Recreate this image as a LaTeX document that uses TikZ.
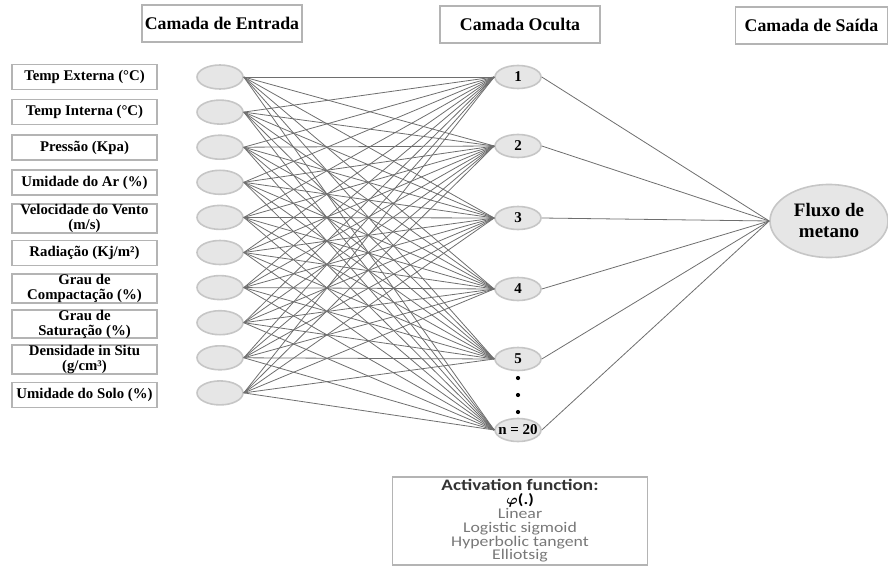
\documentclass[tikz,border=0pt]{standalone}
\usepackage{bm}
\usepackage{fontspec}
\setmainfont{Liberation Serif}
\newfontfamily\actfont[FakeStretch=1.2]{Carlito}
\usetikzlibrary{positioning,shapes.geometric}
\definecolor{NeuronFill}{RGB}{230,230,230}
\definecolor{NeuronLine}{RGB}{198,198,198}
\definecolor{BoxLine}{RGB}{180,180,180}
\definecolor{WireGray}{RGB}{110,110,110}
\definecolor{ActGray}{RGB}{120,120,120}

\begin{document}
\begin{tikzpicture}[x=0.5pt,y=-0.5pt,
  layerbox/.style={draw=BoxLine,line width=0.8pt,minimum height=18.5pt,inner sep=1pt,font=\fontsize{8.9}{10}\selectfont\bfseries},
  inbox/.style={draw=BoxLine,line width=0.8pt,minimum width=72.5pt,minimum height=12.5pt,inner xsep=0.5pt,inner ysep=0pt,align=center,font=\fontsize{7.4}{7.5}\selectfont\bfseries},
  neuron/.style={ellipse,draw=NeuronLine,fill=NeuronFill,line width=0.8pt,inner sep=0pt,minimum width=23pt,minimum height=12pt},
  hidden/.style={neuron,minimum height=11.5pt,font=\fontsize{7.5}{8}\selectfont\bfseries},
  wire/.style={draw=WireGray,line width=0.4pt}]
\useasboundingbox (0,0) rectangle (888,567);

% layer titles
\node[layerbox,minimum width=80pt] (tin) at (222,23.5) {Camada de Entrada};
\node[layerbox,minimum width=80pt] (thid) at (520,24.5) {Camada Oculta};
\node[layerbox,minimum width=76pt] (tout) at (811.5,25.5) {Camada de Saída};

% input variables
\node[inbox] (v1) at (84.5,77) {Temp Externa (°C)};
\node[inbox] (v2) at (84.5,112) {Temp Interna (°C)};
\node[inbox] (v3) at (84.5,147.5) {Pressão (Kpa)};
\node[inbox] (v4) at (84.5,182.5) {Umidade do Ar (\%)};
\node[inbox] (v5) at (84.5,218.5) {Velocidade do Vento\\(m/s)};
\node[inbox] (v6) at (84.5,253) {Radiação (Kj/m²)};
\node[inbox] (v7) at (84.5,288.5) {Grau de\\Compactação (\%)};
\node[inbox] (v8) at (84.5,324) {Grau de\\Saturação (\%)};
\node[inbox] (v9) at (84.5,359.5) {Densidade in Situ\\(g/cm³)};
\node[inbox] (v10) at (84.5,395) {Umidade do Solo (\%)};

% input neurons
\foreach \i in {1,...,10}
  \node[neuron] (i\i) at (220,{77+35.1*(\i-1)}) {};

% hidden neurons
\node[hidden] (h1) at (518,77) {1};
\node[hidden] (h2) at (518,146) {2};
\node[hidden] (h3) at (518,218) {3};
\node[hidden] (h4) at (518,289) {4};
\node[hidden] (h5) at (518,359) {5};
\node[hidden] (h6) at (518,430) {\makebox[0pt]{n = 20}};
\foreach \y in {378,395,412}
  \fill (518,\y) circle (2.1);

% output neuron
\node[neuron,minimum width=59pt,minimum height=36.5pt,font=\fontsize{9.5}{10.5}\selectfont\bfseries,align=center]
  (out) at (829,221) {Fluxo de\\metano};

% connections
\foreach \i in {1,...,10}
  \foreach \h in {1,...,6}
    \path[wire] (i\i.east) -- (h\h.west);
\foreach \h in {1,...,6}
  \path[wire] (h\h.east) -- (out.west);

% activation box
\node[draw=BoxLine,line width=0.8pt,minimum width=127.5pt,minimum height=44pt,inner sep=0.5pt,align=center,
  font=\actfont\fontsize{7.4}{6.9}\selectfont,text=ActGray] (act) at (520,521)
  {\textcolor{black!80}{\bfseries\fontsize{8}{6.9}\selectfont Activation function:}\\
   \textcolor{black}{$\bm{\varphi}$\textbf{(.)}}\\
   Linear\\Logistic sigmoid\\Hyperbolic tangent\\Elliotsig};
\end{tikzpicture}
\end{document}
